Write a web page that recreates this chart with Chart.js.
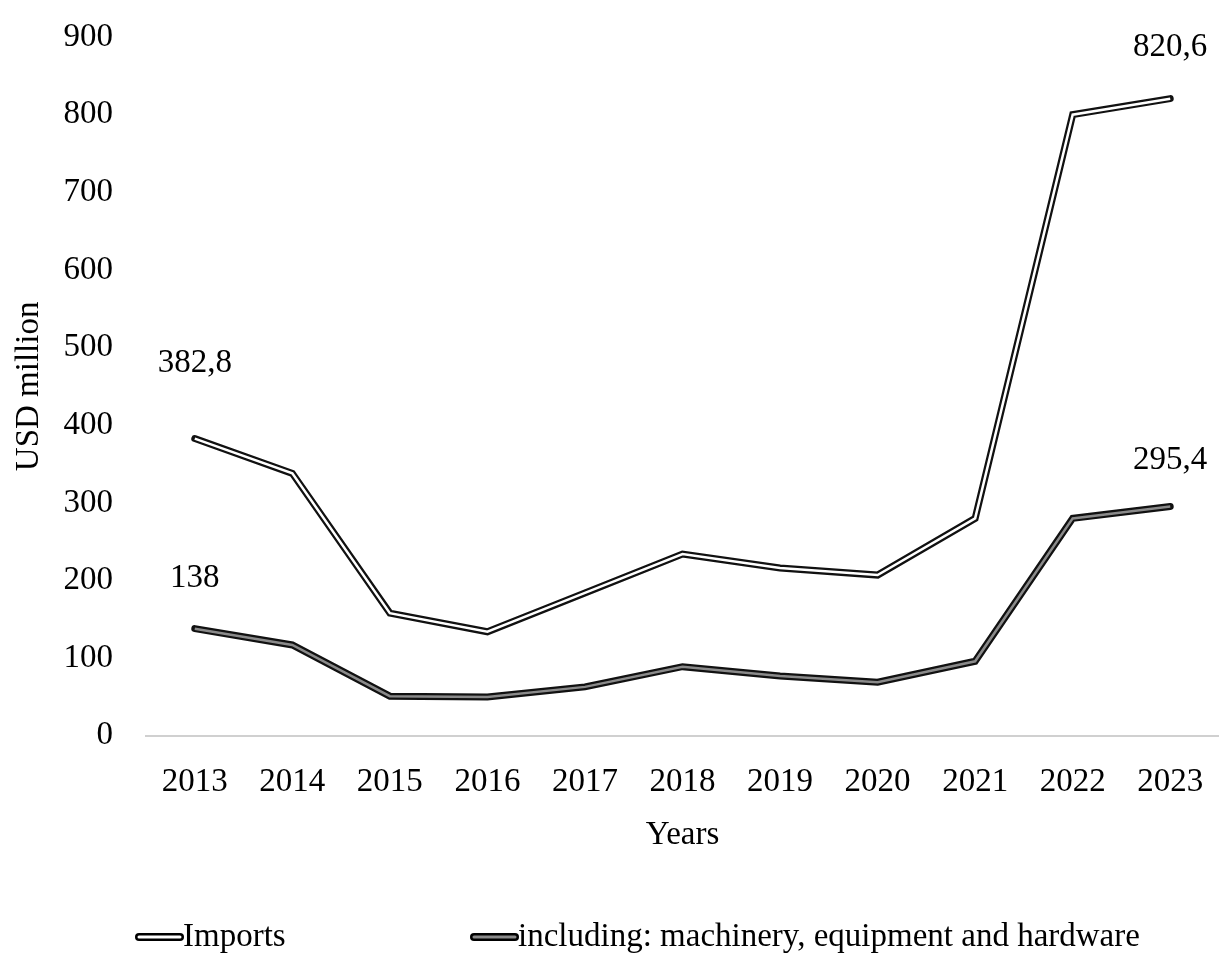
<!DOCTYPE html>
<html>
<head>
<meta charset="utf-8">
<script src="https://cdn.jsdelivr.net/npm/chart.js@4.4.1/dist/chart.umd.min.js"></script>
<style>
  html, body { margin: 0; padding: 0; background: #fff; }
  #wrap { width: 1219px; height: 953px; }
</style>
</head>
<body>
<div id="wrap"><canvas id="chartImports"></canvas></div>
<script>
var years = ["2013", "2014", "2015", "2016", "2017", "2018", "2019", "2020", "2021", "2022", "2023"];
var imports = [382.8, 338, 158, 134, 184, 234, 216, 207, 280, 800, 820.6];
var machinery = [138, 117, 51, 50, 63, 89, 77, 69, 96, 280, 295.4];
var yTicks = [0, 100, 200, 300, 400, 500, 600, 700, 800, 900];

// value labels: series, index, text, offset above the point (px)
var valueLabels = [
    { series: imports, i: 0, text: "382,8", dy: 75 },
    { series: machinery, i: 0, text: "138", dy: 50 },
    { series: imports, i: 10, text: "820,6", dy: 51 },
    { series: machinery, i: 10, text: "295,4", dy: 46 }
];

var font = "'Liberation Serif', 'Times New Roman', serif";
var fs = 33;

var labelsPlugin = {
    id: 'labelsPlugin',
    afterDatasetsDraw: function (chart) {
        var c = chart.ctx;
        var xs = chart.scales.x, ys = chart.scales.y;
        c.save();
        c.fillStyle = '#000';
        c.font = fs + "px " + font;
        c.textAlign = 'center';
        c.textBaseline = 'middle';
        valueLabels.forEach(function (l) {
            var x = xs.getPixelForValue(l.i);
            var y = ys.getPixelForValue(l.series[l.i]);
            c.fillText(l.text, x, y - l.dy);
        });

        // legend
        var items = [
            { text: "Imports", inner: '#ffffff', x: 135 },
            { text: "including: machinery, equipment and hardware", inner: '#8a8a8a', x: 470 }
        ];
        var ly = 937;
        c.textAlign = 'left';
        items.forEach(function (it) {
            c.lineCap = 'round';
            c.strokeStyle = '#000';
            c.lineWidth = 8;
            c.beginPath(); c.moveTo(it.x + 4, ly); c.lineTo(it.x + 45, ly); c.stroke();
            c.strokeStyle = it.inner;
            c.lineWidth = 3;
            c.beginPath(); c.moveTo(it.x + 4, ly); c.lineTo(it.x + 45, ly); c.stroke();
            c.fillStyle = '#000';
            c.fillText(it.text, it.x + 48, ly);
        });
        c.restore();
    }
};

var ctx = document.getElementById('chartImports').getContext('2d');

var chart = new Chart(ctx, {
    type: 'line',
    data: {
        labels: years,
        datasets: [{
            label: "Imports",
            data: imports,
            borderColor: '#ffffff',
            borderWidth: 2.5,
            pointRadius: 0,
            tension: 0,
            order: 0
        }, {
            label: "Imports",
            data: imports,
            borderColor: '#111111',
            borderWidth: 7,
            borderCapStyle: 'round',
            pointRadius: 0,
            tension: 0,
            order: 1
        }, {
            label: "including: machinery, equipment and hardware",
            data: machinery,
            borderColor: '#8a8a8a',
            borderWidth: 2.5,
            pointRadius: 0,
            tension: 0,
            order: 0
        }, {
            label: "including: machinery, equipment and hardware",
            data: machinery,
            borderColor: '#111111',
            borderWidth: 7,
            borderCapStyle: 'round',
            pointRadius: 0,
            tension: 0,
            order: 1
        }]
    },
    options: {
        responsive: true,
        maintainAspectRatio: false,
        animation: false,
        layout: { padding: { top: 37, right: 0, left: 6, bottom: 94 } },
        plugins: {
            legend: { display: false },
            tooltip: { enabled: false }
        },
        scales: {
            x: {
                offset: true,
                afterFit: function (axis) {
                    axis.paddingLeft = 0;
                    axis.paddingRight = 0;
                },
                grid: { display: false, drawTicks: false },
                border: { display: true, color: '#d0d0d0', width: 2 },
                ticks: { color: '#000', font: { family: font, size: fs }, padding: 27 },
                title: { display: true, text: "Years", color: '#000', font: { family: font, size: fs }, padding: { top: -14, bottom: 4 } }
            },
            y: {
                min: 0,
                max: 900,
                afterBuildTicks: function (axis) {
                    axis.ticks = yTicks.map(function (v) { return { value: v }; });
                },
                afterFit: function (axis) {
                    axis.width = 140;
                    axis.paddingTop = 0;
                    axis.paddingBottom = 0;
                },
                grid: { display: false, drawTicks: false },
                border: { display: false },
                ticks: { color: '#000', font: { family: font, size: fs }, padding: 33 },
                title: { display: true, text: "USD million", color: '#000', font: { family: font, size: fs }, padding: { bottom: 8 } }
            }
        }
    },
    plugins: [labelsPlugin]
});
</script>
</body>
</html>
